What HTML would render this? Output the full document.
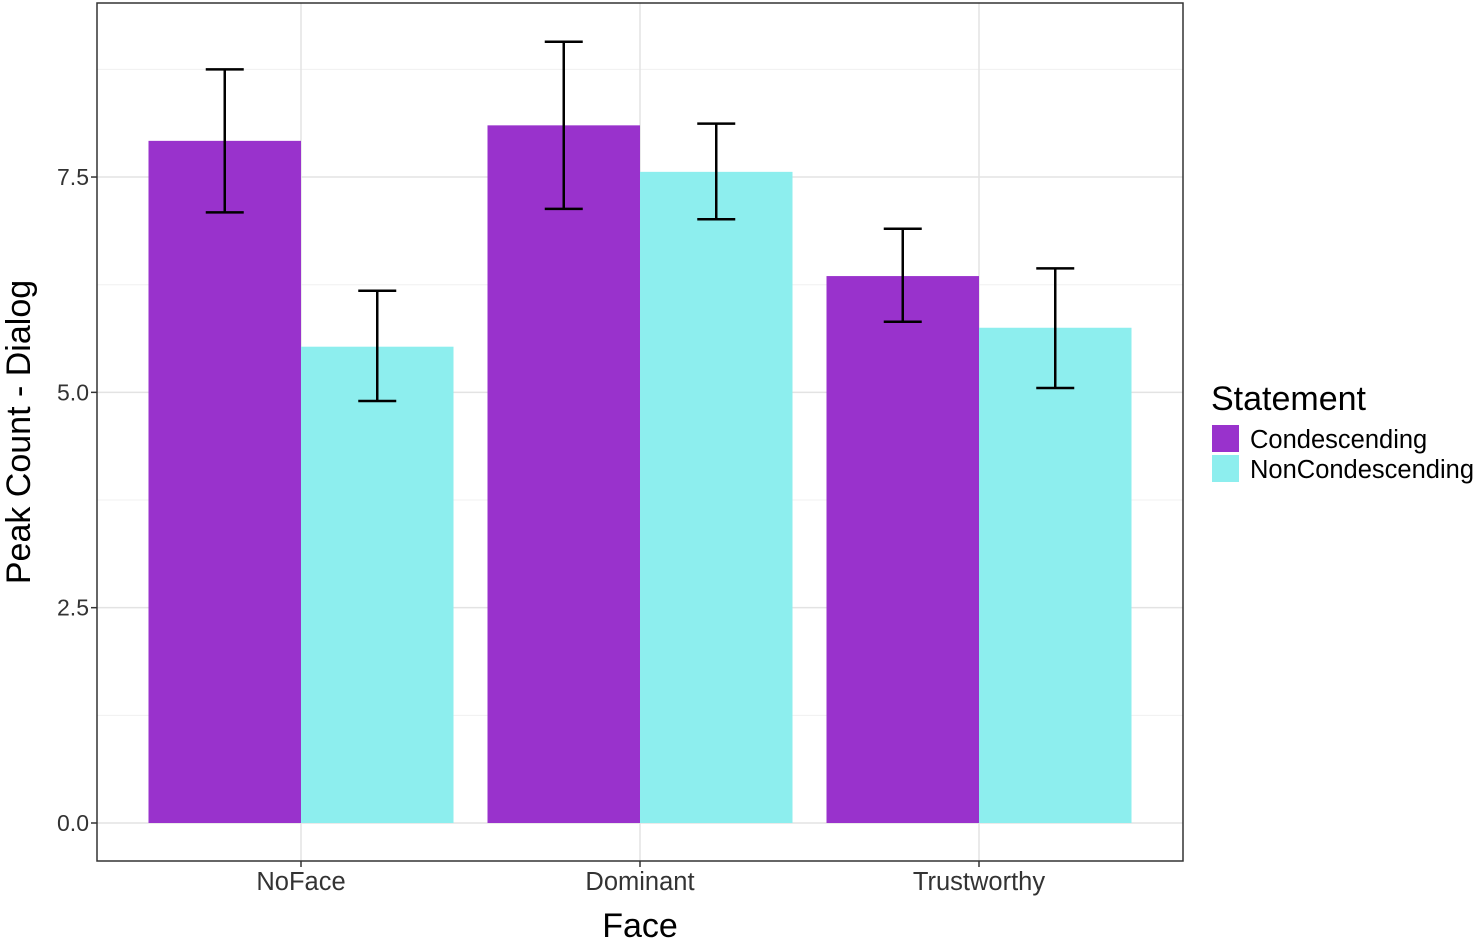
<!DOCTYPE html>
<html><head><meta charset="utf-8"><style>
body{margin:0;background:#fff;}
svg{display:block;font-family:"Liberation Sans",Arial,sans-serif;}
</style></head><body>
<svg id="chart" width="1477" height="941"></svg>
<script>
const categories=["NoFace","Dominant","Trustworthy"];
const seriesNames=["Condescending","NonCondescending"];
const condValues=[7.92,8.10,6.35];
const condLow=[7.09,7.13,5.82];
const condHigh=[8.75,9.07,6.90];
const nonValues=[5.53,7.56,5.75];
const nonLow=[4.90,7.01,5.05];
const nonHigh=[6.18,8.12,6.44];
const yTicks=[0,2.5,5,7.5];
const yTickLabels=["0.0","2.5","5.0","7.5"];
const yMinor=[1.25,3.75,6.25,8.75];

const NS="http://www.w3.org/2000/svg";
const svg=document.getElementById('chart');
const P={l:97,r:1183,t:3,b:861};
const y=v=>823-v*86.13;
const x=i=>301+i*339;
const bw=152.5;
function mk(t,a,parent){const e=document.createElementNS(NS,t);for(const k in a)e.setAttribute(k,a[k]);(parent||svg).appendChild(e);return e;}
const bg=mk('rect',{x:P.l,y:P.t,width:P.r-P.l,height:P.b-P.t,fill:'#fff'});


yMinor.forEach(v=>{const l=mk('line',{x1:P.l,x2:P.r,y1:y(v),y2:y(v),stroke:'#f0f0f0','stroke-width':1});

});
yTicks.forEach((v,i)=>{const l=mk('line',{x1:P.l,x2:P.r,y1:y(v),y2:y(v),stroke:'#e3e3e3','stroke-width':1.5});


const tk=mk('line',{x1:P.l-6,x2:P.l,y1:y(v),y2:y(v),stroke:'#333','stroke-width':1.5});


const t=mk('text',{x:P.l-8,y:y(v)+8,'text-anchor':'end','font-size':23,fill:'#333'});t.textContent=yTickLabels[i];

});
categories.forEach((c,i)=>{const l=mk('line',{x1:x(i),x2:x(i),y1:P.t,y2:P.b,stroke:'#e3e3e3','stroke-width':1.5});


const tk=mk('line',{x1:x(i),x2:x(i),y1:P.b,y2:P.b+6,stroke:'#333','stroke-width':1.5});


const t=mk('text',{x:x(i),y:890,'text-anchor':'middle','font-size':25.5,fill:'#333'});t.textContent=c;

});
const series=[[condValues,condLow,condHigh,'#9932CC',-1],[nonValues,nonLow,nonHigh,'#8DEEEE',0]];
series.forEach(([vals,lo,hi,col,off],s)=>{
 vals.forEach((v,i)=>{const bx=x(i)+off*bw;
  const r=mk('rect',{x:bx,y:y(v),width:bw,height:y(0)-y(v),fill:col});
  
  
  const cx=bx+bw/2;
  const g=mk('g',{stroke:'#000','stroke-width':2.5});
  
  
  mk('line',{x1:cx,x2:cx,y1:y(hi[i]),y2:y(lo[i])},g);
  mk('line',{x1:cx-19,x2:cx+19,y1:y(hi[i]),y2:y(hi[i])},g);
  mk('line',{x1:cx-19,x2:cx+19,y1:y(lo[i]),y2:y(lo[i])},g);
 });
});
const border=mk('rect',{x:P.l,y:P.t,width:P.r-P.l,height:P.b-P.t,fill:'none',stroke:'#333','stroke-width':1.5});


const xt=mk('text',{x:640,y:937,'text-anchor':'middle','font-size':34,fill:'#000'});xt.textContent='Face';


const yt=mk('text',{x:0,y:0,'text-anchor':'middle','font-size':34,fill:'#000',transform:'translate(30,432) rotate(-90)'});yt.textContent='Peak Count - Dialog';


const lt=mk('text',{x:1211,y:410,'font-size':34,fill:'#000'});lt.textContent='Statement';


seriesNames.forEach((n,i)=>{const yy=425+i*30;
 const sw=mk('rect',{x:1212,y:yy,width:27,height:27,fill:series[i][3]});
 
 
 const t=mk('text',{x:1250,y:yy+23,'font-size':25.5,fill:'#000'});t.textContent=n;
 
 });
</script>
</body></html>
